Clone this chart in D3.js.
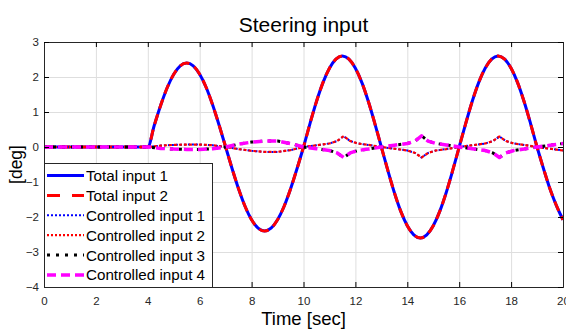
<!DOCTYPE html>
<html>
<head>
<meta charset="utf-8">
<script src="https://cdn.jsdelivr.net/npm/d3@7"></script>
<style>
  body { margin: 0; background: #fff; }
  svg { display: block; font-family: "Liberation Sans", Arial, Helvetica, sans-serif; }
</style>
</head>
<body>
<svg id="chart" width="566" height="329"></svg>
<script>
// sample times for the total steering inputs [sec]
const timeTotal = [0, 1, 2, 3,
  4, 4.25, 4.5, 4.75, 5, 5.25, 5.5, 5.75, 6, 6.25, 6.5, 6.75,
  7, 7.25, 7.5, 7.75, 8, 8.25, 8.5, 8.75, 9, 9.25, 9.5, 9.75,
  10, 10.25, 10.5, 10.75, 11, 11.25, 11.5, 11.75, 12, 12.25, 12.5, 12.75,
  13, 13.25, 13.5, 13.75, 14, 14.25, 14.5, 14.75, 15, 15.25, 15.5, 15.75,
  16, 16.25, 16.5, 16.75, 17, 17.25, 17.5, 17.75, 18, 18.25, 18.5, 18.75,
  19, 19.25, 19.5, 19.75, 20];
// total input [deg]
const totalInput1 = [0, 0, 0, 0,
  0, 0.62, 1.2, 1.7, 2.08, 2.32, 2.4, 2.32, 2.08, 1.7, 1.2, 0.62,
  0, -0.62, -1.2, -1.7, -2.08, -2.32, -2.4, -2.32, -2.08, -1.7, -1.2, -0.62,
  0, 0.67, 1.3, 1.84, 2.25, 2.51, 2.6, 2.51, 2.25, 1.84, 1.3, 0.67,
  0, -0.67, -1.3, -1.84, -2.25, -2.51, -2.6, -2.51, -2.25, -1.84, -1.3, -0.67,
  0, 0.67, 1.3, 1.84, 2.25, 2.51, 2.6, 2.51, 2.25, 1.84, 1.3, 0.67,
  0, -0.62, -1.2, -1.68, -2.08];
const totalInput2 = totalInput1.slice();

// sample times for the controlled inputs [sec]
const timeCtrl = [0, 4, 4.5, 5, 5.5, 6, 6.5, 7, 7.5, 8, 8.5, 9, 9.5,
  10, 10.5, 11, 11.3, 11.55, 11.8, 12.1, 12.5, 13, 13.5, 14, 14.3, 14.55, 14.8, 15.1, 15.5,
  16, 16.5, 17, 17.3, 17.55, 17.8, 18.1, 18.5, 19, 19.5, 20];
const ctrlInput1 = [0, 0, 0.04, 0.06, 0.07, 0.07, 0.05, 0, -0.06, -0.11, -0.14, -0.14, -0.09,
  0, 0.05, 0.1, 0.17, 0.31, 0.17, 0.1, 0.06, 0, -0.05, -0.1, -0.17, -0.3, -0.17, -0.1, -0.06,
  0, 0.05, 0.1, 0.17, 0.3, 0.17, 0.1, 0.06, 0, -0.05, -0.1];
const ctrlInput2 = ctrlInput1.slice();
const ctrlInput3 = [0, 0, -0.04, -0.06, -0.07, -0.07, -0.05, 0, 0.08, 0.14, 0.17, 0.17, 0.1,
  0, -0.05, -0.1, -0.17, -0.3, -0.17, -0.1, -0.06, 0, 0.05, 0.1, 0.17, 0.32, 0.17, 0.1, 0.06,
  0, -0.05, -0.1, -0.17, -0.3, -0.17, -0.1, -0.06, 0, 0.05, 0.1];
const ctrlInput4 = ctrlInput3.slice();

const xTicks = [0, 2, 4, 6, 8, 10, 12, 14, 16, 18, 20];
const yTicks = [-4, -3, -2, -1, 0, 1, 2, 3];

const series = [
  { name: "Total input 1", t: timeTotal, v: totalInput1, color: "#0000ff", w: 3, dash: null, curve: d3.curveMonotoneX },
  { name: "Total input 2", t: timeTotal, v: totalInput2, color: "#ff0000", w: 3, dash: "10,6", curve: d3.curveMonotoneX },
  { name: "Controlled input 1", t: timeCtrl, v: ctrlInput1, color: "#0000ff", w: 2, dash: "2,2", curve: d3.curveLinear },
  { name: "Controlled input 2", t: timeCtrl, v: ctrlInput2, color: "#ff0000", w: 2.2, dash: "3,2", curve: d3.curveLinear },
  { name: "Controlled input 3", t: timeCtrl, v: ctrlInput3, color: "#000000", w: 3, dash: "3,6", curve: d3.curveLinear },
  { name: "Controlled input 4", t: timeCtrl, v: ctrlInput4, color: "#ff00ff", w: 3.5, dash: "9,5", curve: d3.curveLinear }
];

const plotLeft = 44, plotRight = 563, plotTop = 42, plotBottom = 287;
const axisColor = "#262626";
const gridColor = "#dedede";

const svg = d3.select("#chart");
const x = d3.scaleLinear().domain([0, 20]).range([plotLeft, plotRight]);
const y = d3.scaleLinear().domain([-4, 3]).range([plotBottom, plotTop]);

// grid
svg.append("g")
  .attr("transform", "translate(0," + plotBottom + ")")
  .call(d3.axisBottom(x).tickValues(xTicks.slice(1, -1)).tickSize(-(plotBottom - plotTop)).tickFormat(""))
  .call(g => g.select(".domain").remove())
  .selectAll("line").attr("stroke", gridColor);
svg.append("g")
  .attr("transform", "translate(" + plotLeft + ",0)")
  .call(d3.axisLeft(y).tickValues(yTicks.slice(1, -1)).tickSize(-(plotRight - plotLeft)).tickFormat(""))
  .call(g => g.select(".domain").remove())
  .selectAll("line").attr("stroke", gridColor);

// data lines
svg.append("clipPath").attr("id", "plot")
  .append("rect").attr("x", plotLeft).attr("y", plotTop).attr("width", plotRight - plotLeft).attr("height", plotBottom - plotTop);

const lines = svg.append("g").attr("clip-path", "url(#plot)");
series.forEach(s => {
  const pts = s.t.map((t, i) => [t, s.v[i]]);
  const line = d3.line().x(d => x(d[0])).y(d => y(d[1])).curve(s.curve);
  lines.append("path")
    .attr("d", line(pts))
    .attr("fill", "none")
    .attr("stroke", s.color)
    .attr("stroke-width", s.w)
    .attr("stroke-dasharray", s.dash)
    .attr("stroke-linejoin", "round");
});

// axes (box with inward ticks)
const xAxis = svg.append("g")
  .attr("transform", "translate(0," + plotBottom + ")")
  .call(d3.axisBottom(x).tickValues(xTicks).tickSize(-5).tickPadding(10).tickFormat(d3.format("d")));
svg.append("g")
  .attr("transform", "translate(0," + plotTop + ")")
  .call(d3.axisTop(x).tickValues(xTicks).tickSize(-5).tickFormat(""));
const yAxis = svg.append("g")
  .attr("transform", "translate(" + plotLeft + ",0)")
  .call(d3.axisLeft(y).tickValues(yTicks).tickSize(-5).tickPadding(5).tickFormat(d3.format("d")));
svg.append("g")
  .attr("transform", "translate(" + plotRight + ",0)")
  .call(d3.axisRight(y).tickValues(yTicks).tickSize(-5).tickFormat(""));

svg.selectAll(".domain").attr("stroke", axisColor);
xAxis.selectAll("text").attr("fill", axisColor).style("font-size", "11.5px");
yAxis.selectAll("text").attr("fill", axisColor).style("font-size", "11.5px");
svg.selectAll("g").attr("font-family", null);

// titles
svg.append("text")
  .attr("x", (plotLeft + plotRight) / 2).attr("y", 32)
  .attr("text-anchor", "middle")
  .attr("fill", "#000")
  .style("font-size", "21px")
  .text("Steering input");
svg.append("text")
  .attr("x", (plotLeft + plotRight) / 2).attr("y", 325)
  .attr("text-anchor", "middle")
  .attr("fill", "#000")
  .style("font-size", "18.5px")
  .text("Time [sec]");
svg.append("text")
  .attr("transform", "translate(22," + (plotTop + plotBottom) / 2 + ") rotate(-90)")
  .attr("text-anchor", "middle")
  .attr("fill", "#000")
  .style("font-size", "17.5px")
  .text("[deg]");

// legend
const legTop = 163, legRight = 212, rowH = 19.9, firstRow = 175.5;
const legend = svg.append("g");
legend.append("rect")
  .attr("x", plotLeft + 0.5).attr("y", legTop + 0.5)
  .attr("width", legRight - plotLeft).attr("height", plotBottom - legTop)
  .attr("fill", "#fff")
  .attr("stroke", axisColor);
series.forEach((s, i) => {
  const ly = firstRow + i * rowH;
  legend.append("line")
    .attr("x1", 47).attr("x2", 84).attr("y1", ly).attr("y2", ly)
    .attr("stroke", s.color)
    .attr("stroke-width", s.w)
    .attr("stroke-dasharray", s.name === "Total input 2" ? "13,12" : (s.name.startsWith("Controlled input 2") ? "2,2" : s.dash));
  legend.append("text")
    .attr("x", 86).attr("y", ly)
    .attr("dy", "0.36em")
    .attr("fill", "#000")
    .style("font-size", "15.2px")
    .text(s.name);
});
</script>
</body>
</html>
